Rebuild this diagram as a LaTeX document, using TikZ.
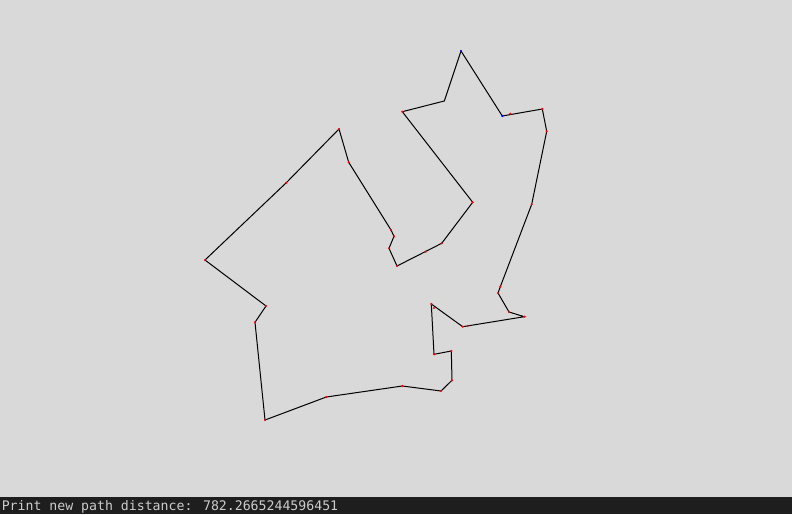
\documentclass[tikz,border=0pt]{standalone}
\usepackage{fontspec}
\newfontfamily\monofont{DejaVu Sans Mono}
\definecolor{bg}{RGB}{217,217,217}
\definecolor{barbg}{RGB}{30,30,30}
\definecolor{bartext}{RGB}{204,204,204}
\begin{document}
\begin{tikzpicture}[x=0.75pt,y=-0.75pt,
  edge/.style={draw=black,line width=0.75pt,line join=miter},
  vdot/.style={fill=red,inner sep=0pt,minimum size=1.8pt,circle},
  bdot/.style={fill=blue,inner sep=0pt,minimum size=1.8pt,circle}]
\fill[bg] (0,0) rectangle (792,514);
\useasboundingbox (0,0) rectangle (792,514);
\fill[barbg] (0,497) rectangle (792,514);
\node[anchor=base west,inner sep=0pt,text=bartext,font=\monofont\fontsize{9.9}{12}\selectfont] (status) at (1.5,510) {Print new path distance: 782.2665244596451};
% vertices
\coordinate (p1) at (397,266);
\coordinate (p2) at (441.7,243.3);
\coordinate (p3) at (472.7,202.3);
\coordinate (p4) at (402.3,111.7);
\coordinate (p5) at (444.3,101);
\coordinate (p6) at (461,51);
\coordinate (p7) at (502.3,116);
\coordinate (p8) at (542.3,109);
\coordinate (p9) at (546.7,131.3);
\coordinate (p10) at (531.7,204.3);
\coordinate (p11) at (500.3,286.7);
\coordinate (p12) at (498,293);
\coordinate (p13) at (509,312);
\coordinate (p14) at (524.3,316.7);
\coordinate (p15) at (462.7,326.7);
\coordinate (p16) at (431.3,304);
\coordinate (p17) at (434,354.3);
\coordinate (p18) at (451.3,351);
\coordinate (p19) at (452,380.3);
\coordinate (p20) at (441,391);
\coordinate (p21) at (402.3,386);
\coordinate (p22) at (326.3,397);
\coordinate (p23) at (265,420);
\coordinate (p24) at (255,322.3);
\coordinate (p25) at (266,306);
\coordinate (p26) at (205,260);
\coordinate (p27) at (286.3,182.7);
\coordinate (p28) at (339,129);
\coordinate (p29) at (348.7,162.3);
\coordinate (p30) at (391,230);
\coordinate (p31) at (394,236.3);
\coordinate (p32) at (389,248.3);
\draw[edge] (p1) -- (p2) -- (p3) -- (p4) -- (p5) -- (p6) -- (p7) -- (p8) -- (p9) -- (p10)
  -- (p11) -- (p12) -- (p13) -- (p14) -- (p15) -- (p16) -- (p17) -- (p18) -- (p19) -- (p20)
  -- (p21) -- (p22) -- (p23) -- (p24) -- (p25) -- (p26) -- (p27) -- (p28) -- (p29) -- (p30)
  -- (p31) -- (p32) -- cycle;
\foreach \p in {p1,p2,p3,p4,p8,p9,p10,p11,p12,p13,p14,p15,p16,p17,p18,p19,p20,p21,p22,p23,p24,p25,p26,p27,p28,p29,p30,p31,p32}
  \node[vdot] at (\p) {};
\node[vdot] at (425.7,251.7) {};
\node[vdot] at (510.3,113.7) {};
\node[vdot] at (467.7,326) {};
\node[vdot] at (434,308) {};
\node[bdot] at (p6) {};
\node[bdot] at (p7) {};
\end{tikzpicture}
\end{document}
